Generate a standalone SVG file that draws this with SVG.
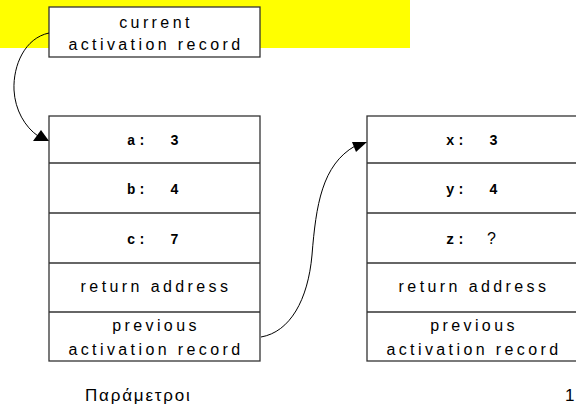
<svg xmlns="http://www.w3.org/2000/svg" width="576" height="407" viewBox="0 0 576 407">
<style>
.box{fill:#fff;stroke:#333;stroke-width:1.3}
.sep{stroke:#333;stroke-width:1.3}
.t{font-family:"Liberation Sans",Arial,sans-serif;font-size:16px;letter-spacing:3.4px;text-anchor:middle;fill:#000}
.m{font-family:"Liberation Mono","Courier New",monospace;font-size:14px;font-weight:bold;letter-spacing:2.4px;fill:#000}
.q{font-family:"Liberation Sans",Arial,sans-serif;font-size:16px;fill:#000}
.f{font-family:"Liberation Sans",Arial,sans-serif;font-size:17px;letter-spacing:1.8px;fill:#000}
.c{fill:none;stroke:#000;stroke-width:1}
</style>
<rect x="0" y="0" width="410" height="48" fill="#ffff00"/>
<g id="current">
<rect class="box" x="49" y="7" width="211" height="50"/>
<text class="t" x="156" y="28">current</text>
<text class="t" x="156" y="50">activation record</text>
</g>
<g id="record1">
<rect class="box" x="49" y="116" width="211" height="245"/>
<line class="sep" x1="49" y1="163" x2="260" y2="163"/>
<line class="sep" x1="49" y1="213" x2="260" y2="213"/>
<line class="sep" x1="49" y1="263" x2="260" y2="263"/>
<line class="sep" x1="49" y1="312" x2="260" y2="312"/>
<text class="m" x="127" y="145" xml:space="preserve">a:  3</text>
<text class="m" x="127" y="194" xml:space="preserve">b:  4</text>
<text class="m" x="127" y="244" xml:space="preserve">c:  7</text>
<text class="t" x="156" y="292">return address</text>
<text class="t" x="156" y="331">previous</text>
<text class="t" x="156" y="355">activation record</text>
</g>
<g id="record2">
<rect class="box" x="367" y="116" width="211" height="245"/>
<line class="sep" x1="367" y1="163" x2="578" y2="163"/>
<line class="sep" x1="367" y1="213" x2="578" y2="213"/>
<line class="sep" x1="367" y1="263" x2="578" y2="263"/>
<line class="sep" x1="367" y1="312" x2="578" y2="312"/>
<text class="m" x="446" y="145" xml:space="preserve">x:  3</text>
<text class="m" x="446" y="194" xml:space="preserve">y:  4</text>
<text class="m" x="446" y="244">z:</text>
<text class="q" x="487" y="244">?</text>
<text class="t" x="474" y="292">return address</text>
<text class="t" x="474" y="331">previous</text>
<text class="t" x="474" y="355">activation record</text>
</g>
<g id="connectors">
<path class="c" d="M49,33 C25,38 13,65 14,90 C15,110 25,127 38,136"/>
<polygon points="33,141 49,141 41,130" fill="#000"/>
<path class="c" d="M261,337 C290,332 308,300 312,255 C316,205 322,165 355,146"/>
<polygon points="367,142 352,142 356,152" fill="#000"/>
</g>
<text class="f" x="85" y="401">Παράμετροι</text>
<text class="f" x="565" y="401">1</text>
</svg>
